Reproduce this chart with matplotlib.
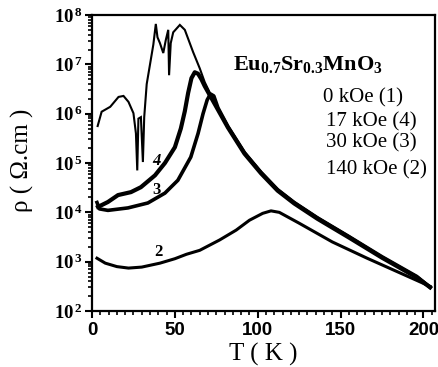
import numpy as np
import matplotlib
matplotlib.use("Agg")
import matplotlib.pyplot as plt
from matplotlib.ticker import FixedLocator, LogLocator, NullFormatter, MultipleLocator

plt.rcParams['mathtext.fontset'] = 'custom'
plt.rcParams['mathtext.rm'] = 'Liberation Serif'
plt.rcParams['mathtext.bf'] = 'Liberation Serif:bold'
plt.rcParams['mathtext.it'] = 'Liberation Serif:italic'

# ---- data (T in K, log10 of resistivity in Ohm.cm) ----
T1 = [3.4, 5.8, 11, 16, 19, 22, 25, 26.5, 27.3, 28, 29.5, 30.7, 31.5, 33, 35, 37, 38.5, 39.5,
      41, 43, 44.5, 46, 46.5, 47.5, 49, 53, 56, 61, 65, 68, 74, 82, 92, 102, 112, 122, 136,
      155, 175, 196, 204]
logR1 = [5.75, 6.04, 6.14, 6.34, 6.36, 6.24, 6.01, 5.6, 4.85, 5.9, 5.93, 5.02, 5.93, 6.6, 7.0,
         7.4, 7.82, 7.55, 7.43, 7.23, 7.49, 7.7, 6.78, 7.43, 7.65, 7.8, 7.7, 7.25, 6.92, 6.64,
         6.22, 5.75, 5.22, 4.82, 4.47, 4.21, 3.9, 3.52, 3.1, 2.7, 2.5]

T4 = [3.6, 9.6, 15.7, 23.5, 29.5, 38, 44, 50, 53.6, 56, 58, 60, 62, 64, 66, 68, 74, 82, 92,
      102, 112, 122, 136, 155, 175, 196, 204]
logR4 = [4.11, 4.21, 4.35, 4.41, 4.51, 4.75, 5.0, 5.32, 5.7, 6.05, 6.42, 6.72, 6.84, 6.81,
         6.7, 6.56, 6.2, 5.72, 5.19, 4.79, 4.44, 4.18, 3.87, 3.49, 3.08, 2.68, 2.48]

T3 = [3.0, 4.5, 9.6, 21.7, 33.7, 44, 51.8, 59.6, 64, 67, 69.5, 71.5, 73.5, 76, 82, 92, 102,
      112, 122, 136, 155, 175, 196, 204]
logR3 = [4.2, 4.07, 4.04, 4.09, 4.19, 4.39, 4.65, 5.12, 5.6, 6.0, 6.28, 6.4, 6.36, 6.12,
         5.74, 5.21, 4.81, 4.46, 4.2, 3.89, 3.51, 3.1, 2.7, 2.48]

T2 = [3, 8, 15, 22, 30, 41, 50, 57, 65, 77, 87, 95, 103, 108, 113, 125, 145, 166, 186, 204]
logR2 = [3.07, 2.97, 2.90, 2.87, 2.89, 2.97, 3.06, 3.15, 3.23, 3.44, 3.64, 3.84, 3.98, 4.03,
         4.0, 3.78, 3.40, 3.07, 2.77, 2.50]

xticks = [0, 50, 100, 150, 200]
yexps = [2, 3, 4, 5, 6, 7, 8]

fig = plt.figure(figsize=(4.39, 3.67), dpi=100)
ax = fig.add_axes([0.2096, 0.1526, 0.991 - 0.2096, 0.959 - 0.1526])

ax.plot(T1, 10 ** np.array(logR1), color='black', lw=1.5, solid_joinstyle='miter')
ax.plot(T4, 10 ** np.array(logR4), color='black', lw=3.0, solid_joinstyle='round')
ax.plot(T3, 10 ** np.array(logR3), color='black', lw=2.6, solid_joinstyle='round')
ax.plot(T2, 10 ** np.array(logR2), color='black', lw=2.2, solid_joinstyle='round')

ax.set_yscale('log')
ax.set_xlim(0, 207)
ax.set_ylim(1e2, 1e8)

ax.xaxis.set_major_locator(FixedLocator(xticks))
ax.xaxis.set_minor_locator(MultipleLocator(5))
ax.set_xticklabels([str(v) for v in xticks], fontfamily='Liberation Sans',
                   fontweight='bold', fontsize=13.5)
ax.yaxis.set_major_locator(FixedLocator([10.0 ** e for e in yexps]))
ax.yaxis.set_minor_locator(LogLocator(base=10, subs=np.arange(2, 10), numticks=20))
ax.yaxis.set_minor_formatter(NullFormatter())
ax.set_yticklabels([r'$\mathbf{10^{\,%d}}$' % e for e in yexps], fontsize=13.5)

ax.tick_params(axis='both', which='major', direction='out', length=5, width=1.5, pad=2,
               colors='black')
ax.tick_params(axis='x', which='major', pad=3)
ax.tick_params(axis='both', which='minor', direction='out', length=3, width=1.2)
for s in ax.spines.values():
    s.set_linewidth(1.6)
    s.set_color('black')

ax.set_xlabel('T ( K )', fontfamily='Liberation Serif', fontsize=18, labelpad=3)
ax.set_ylabel('ρ ( Ω.cm )', fontfamily='Liberation Serif', fontsize=18)
ax.yaxis.set_label_coords(-0.17, 0.51)

ax.text(0.41, 0.834, r'$\mathbf{Eu_{0.7}Sr_{0.3}MnO_3}$', transform=ax.transAxes,
        fontsize=16, ha='left', va='center')
legend_lines = ['0 kOe (1)', '17 kOe (4)', '30 kOe (3)', '140 kOe (2)']
for i, (t, yy) in enumerate(zip(legend_lines, [0.72, 0.64, 0.568, 0.478])):
    ax.text(0.672 + (0.0 if i == 0 else 0.011), yy, t, transform=ax.transAxes,
            fontfamily='Liberation Serif', fontsize=15, ha='left', va='center')

# curve labels
ax.text(39, 10 ** 5.05, '4', fontfamily='Liberation Serif', fontsize=12, fontweight='bold',
        fontstyle='italic', ha='center', va='center')
ax.text(39, 10 ** 4.45, '3', fontfamily='Liberation Serif', fontsize=12, fontweight='bold',
        ha='center', va='center')
ax.text(40, 10 ** 3.19, '2', fontfamily='Liberation Serif', fontsize=12, fontweight='bold',
        ha='center', va='center')

fig.savefig('out.png', dpi=100)
